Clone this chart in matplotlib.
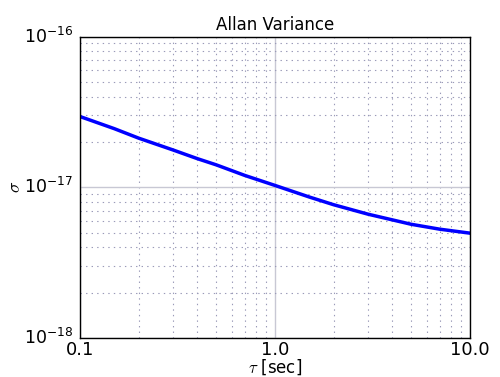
import matplotlib
matplotlib.use('Agg')
import matplotlib.pyplot as plt
import numpy as np

plt.style.use('classic')

# values
tau = [0.1, 0.15, 0.2, 0.3, 0.4, 0.5, 0.7, 1.0, 1.5, 2.0, 3.0, 5.0, 7.0, 10.0]
sigma = [2.95e-17, 2.45e-17, 2.12e-17, 1.77e-17, 1.55e-17, 1.41e-17, 1.20e-17,
         1.03e-17, 8.63e-18, 7.67e-18, 6.64e-18, 5.69e-18, 5.28e-18, 4.97e-18]

fig = plt.figure(figsize=(5, 3.77), dpi=100)
fig.patch.set_facecolor('white')
ax = fig.add_axes([0.16, 0.103, 0.78, 0.80])

ax.loglog(tau, sigma, color='blue', lw=2.5)

ax.set_xlim(0.1, 10)
ax.set_ylim(1e-18, 1e-16)

ax.grid(True, which='major', linestyle='-', color='#c8c8d4', lw=1)
ax.grid(True, which='minor', linestyle=':', color='#9a9ab8', lw=0.8)
ax.set_axisbelow(True)

ax.set_xticks([0.1, 1.0, 10.0])
ax.set_xticklabels(['0.1', '1.0', '10.0'])
ax.tick_params(which='both', length=0)
ax.tick_params(axis='x', pad=2, labelsize=13)
ax.tick_params(axis='y', pad=5, labelsize=12.5)

ax.set_title('Allan Variance', fontsize=12)
ax.set_xlabel(r'$\tau$ [sec]', fontsize=12, labelpad=-1)
ax.set_ylabel(r'$\sigma$', fontsize=13, labelpad=0)

fig.savefig('out.png', dpi=100, facecolor='white')
